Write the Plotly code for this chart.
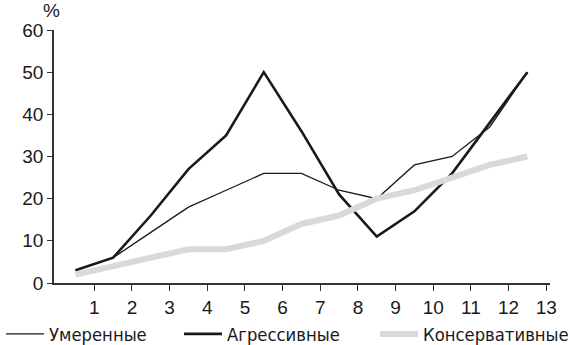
import plotly.graph_objects as go

# Periods are plotted between the integer ticks (0.5, 1.5, ... 12.5)
periods = [0.5, 1.5, 2.5, 3.5, 4.5, 5.5, 6.5, 7.5, 8.5, 9.5, 10.5, 11.5, 12.5]
moderate = [3, 6, 12, 18, 22, 26, 26, 22, 20, 28, 30, 37, 50]
aggressive = [3, 6, 16, 27, 35, 50, 36, 21, 11, 17, 26, 38, 50]
conservative = [2, 4, 6, 8, 8, 10, 14, 16, 20, 22, 25, 28, 30]

x_ticks = list(range(1, 14))
y_ticks = [0, 10, 20, 30, 40, 50, 60]

TICK_FONT = dict(family="Liberation Sans, Arial, sans-serif", size=19, color="#1a1a1a")
LEGEND_FONT = dict(family="Liberation Sans Narrow, DejaVu Sans Condensed, sans-serif",
                   size=18.3, color="#1a1a1a")

fig = go.Figure()
fig.add_trace(go.Scatter(x=periods, y=moderate, mode="lines", name="Умеренные",
                         line=dict(color="#1a1a1a", width=1.3), legend="legend"))
fig.add_trace(go.Scatter(x=periods, y=aggressive, mode="lines", name="Агрессивные",
                         line=dict(color="#1a1a1a", width=2.6), legend="legend2"))
fig.add_trace(go.Scatter(x=periods, y=conservative, mode="lines", name="Консервативные",
                         line=dict(color="#d9d9d9", width=6), legend="legend3"))

W, H = 570, 345
plot_left, plot_right, plot_top, plot_bottom = 54, 550, 30, 283.3
pw = plot_right - plot_left
ph = plot_bottom - plot_top


def px_x(px):
    return (px - plot_left) / pw


def px_y(py):
    return (plot_bottom - py) / ph


legend_common = dict(orientation="h", font=LEGEND_FONT, bgcolor="rgba(0,0,0,0)",
                     itemwidth=38, yanchor="middle", xanchor="left",
                     xref="container", yref="container", y=1 - 334 / H,
                     itemclick=False, itemdoubleclick=False)

fig.update_layout(
    width=W, height=H, showlegend=True,
    margin=dict(l=plot_left, r=W - plot_right, t=plot_top, b=H - plot_bottom,
                autoexpand=False),
    paper_bgcolor="white", plot_bgcolor="white",
    xaxis=dict(range=[-0.07, 13.1], tickvals=x_ticks, ticks="outside", ticklen=6,
               tickwidth=1.3, tickcolor="#333", showline=True, linecolor="#333",
               linewidth=1.5, showgrid=False, zeroline=False, tickfont=TICK_FONT),
    yaxis=dict(range=[0, 60], tickvals=y_ticks, ticks="outside", ticklen=5,
               tickwidth=1.3, tickcolor="#333", showline=True, linecolor="#333",
               linewidth=1.5, showgrid=False, zeroline=False, tickfont=TICK_FONT),
    legend=dict(x=1 / W, **legend_common),
    legend2=dict(x=179 / W, **legend_common),
    legend3=dict(x=375 / W, **legend_common),
    annotations=[dict(text="%", xref="paper", yref="paper", x=px_x(51.5), y=px_y(10),
                      xanchor="center", yanchor="middle", showarrow=False, font=TICK_FONT)],
)

fig.write_html("out.html")
